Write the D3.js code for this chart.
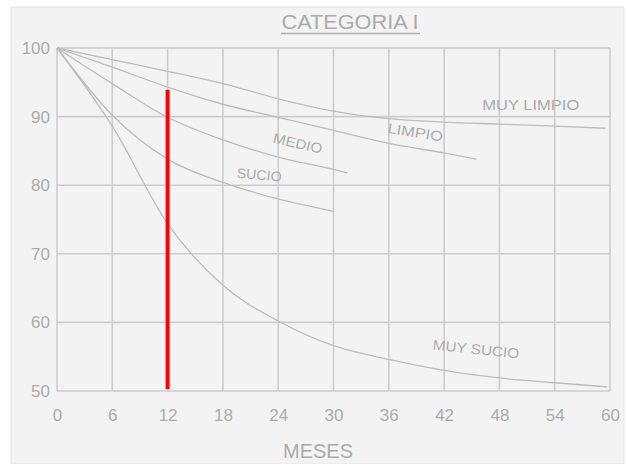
<!DOCTYPE html>
<html><head><meta charset="utf-8">
<script src="https://cdn.jsdelivr.net/npm/d3@7"></script>
<style>
html,body{margin:0;padding:0;background:#fff;}
svg{display:block;}
text{font-family:"Liberation Sans","DejaVu Sans",sans-serif;fill:#ababab;}
</style></head>
<body>
<svg id="chart" width="626" height="464"></svg>
<script>
// ---- data ----
const title = "CATEGORIA I";
const xLabel = "MESES";
const xTicks = [0, 6, 12, 18, 24, 30, 36, 42, 48, 54, 60];
const yTicks = [50, 60, 70, 80, 90, 100];

const muyLimpioMonths = [0, 6, 12, 18, 24, 30, 36, 42, 48, 54, 59.5];
const muyLimpioValues = [100, 98.3, 96.6, 94.8, 92.6, 90.8, 89.7, 89.2, 88.9, 88.6, 88.3];

const limpioMonths = [0, 6, 12, 18, 24, 30, 36, 42, 45.5];
const limpioValues = [100, 97.2, 94.3, 91.8, 89.9, 88.0, 86.1, 84.7, 83.8];

const medioMonths = [0, 6, 12, 18, 24, 30, 31.5];
const medioValues = [100, 94.8, 89.9, 86.6, 84.1, 82.3, 81.8];

const sucioMonths = [0, 6, 12, 18, 24, 30];
const sucioValues = [100, 90.2, 83.8, 80.4, 78.0, 76.2];

const muySucioMonths = [0, 6, 12, 18, 24, 30, 36, 42, 48, 54, 59.7];
const muySucioValues = [100, 88.6, 74.4, 65.4, 60.2, 56.6, 54.6, 53.0, 51.9, 51.2, 50.6];

const seriesNames = ["MUY LIMPIO", "LIMPIO", "MEDIO", "SUCIO", "MUY SUCIO"];
// label anchor (month, value), rotation (deg) and drawn width for each curve label
const labelMonths = [51.4, 38.8, 26.0, 21.9, 45.4];
const labelValues = [91.0, 87.0, 85.4, 80.8, 55.4];
const labelAngles = [0, 9, 13, 5, 6];
const labelWidths = [97, 56, 50, 45, 87];

const markerMonth = 12;
const markerFrom = 93.9;
const markerTo = 50.3;

// ---- drawing ----
const svg = d3.select("#chart");
const W = 626, H = 464;
const x = d3.scaleLinear().domain([0, 60]).range([57, 610]);
const y = d3.scaleLinear().domain([50, 100]).range([391, 48]);

// paper panel
svg.append("rect").attr("x", 11).attr("y", 7).attr("width", W - 13).attr("height", H - 7)
  .attr("fill", "#f3f3f3").attr("stroke", "#e4e4e4").attr("stroke-width", 1);

const gridColor = "#cdcdcd";
svg.append("g").selectAll("line").data(xTicks).join("line")
  .attr("x1", d => x(d)).attr("x2", d => x(d)).attr("y1", y(100)).attr("y2", y(50))
  .attr("stroke", gridColor).attr("stroke-width", 1.6);
svg.append("g").selectAll("line").data(yTicks).join("line")
  .attr("y1", d => y(d)).attr("y2", d => y(d)).attr("x1", x(0)).attr("x2", x(60))
  .attr("stroke", gridColor).attr("stroke-width", 1.6);

// axes (tick labels only)
const xAxis = d3.axisBottom(x).tickValues(xTicks).tickSize(0).tickPadding(18);
const gx = svg.append("g").attr("transform", `translate(0,${y(50)})`).call(xAxis);
gx.select(".domain").remove();
gx.selectAll("text").style("font-size", "17px").attr("fill", "#b3b3b3")
  .attr("font-family", "'Liberation Sans Narrow','Liberation Sans',sans-serif");

const yAxis = d3.axisLeft(y).tickValues(yTicks).tickSize(0).tickPadding(7);
const gy = svg.append("g").attr("transform", `translate(${x(0)},0)`).call(yAxis);
gy.select(".domain").remove();
gy.selectAll("text").style("font-size", "17px").attr("fill", "#b3b3b3")
  .attr("font-family", "'Liberation Sans Narrow','Liberation Sans',sans-serif");

// curves
const allSeries = [
  [muyLimpioMonths, muyLimpioValues],
  [limpioMonths, limpioValues],
  [medioMonths, medioValues],
  [sucioMonths, sucioValues],
  [muySucioMonths, muySucioValues]
];
const line = d3.line().x(d => x(d[0])).y(d => y(d[1])).curve(d3.curveMonotoneX);
svg.append("g").selectAll("path").data(allSeries).join("path")
  .attr("d", s => line(s[0].map((m, i) => [m, s[1][i]])))
  .attr("fill", "none").attr("stroke", "#bcbcbc").attr("stroke-width", 1.3);

// curve labels
svg.append("g").selectAll("text").data(seriesNames).join("text")
  .attr("transform", (d, i) => `translate(${x(labelMonths[i])},${y(labelValues[i])}) rotate(${labelAngles[i]})`)
  .attr("text-anchor", "middle")
  .attr("textLength", (d, i) => labelWidths[i]).attr("lengthAdjust", "spacingAndGlyphs")
  .style("font-size", "14px").attr("fill", "#a8a8a8")
  .text(d => d);

// red marker line
svg.append("line")
  .attr("x1", x(markerMonth)).attr("x2", x(markerMonth))
  .attr("y1", y(markerFrom)).attr("y2", y(markerTo))
  .attr("stroke", "#ff0000").attr("stroke-width", 4);

// title with underline
svg.append("text").attr("x", 350).attr("y", 29).attr("text-anchor", "middle")
  .attr("textLength", 137).attr("lengthAdjust", "spacingAndGlyphs")
  .style("font-size", "21px").attr("fill", "#a4a4a4").text(title);
svg.append("line").attr("x1", 281).attr("x2", 420).attr("y1", 33.5).attr("y2", 33.5)
  .attr("stroke", "#b0b0b0").attr("stroke-width", 1.5);

// x axis label
svg.append("text").attr("x", 318).attr("y", 458).attr("text-anchor", "middle")
  .attr("textLength", 70).attr("lengthAdjust", "spacingAndGlyphs")
  .style("font-size", "20px").attr("fill", "#ababab").text(xLabel);
</script>
</body></html>
